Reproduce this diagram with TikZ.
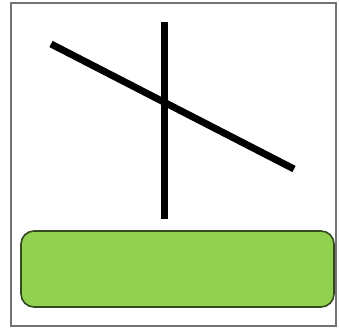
\documentclass[tikz,border=0pt]{standalone}
\usetikzlibrary{positioning}
\definecolor{barfill}{RGB}{146,208,80}
\definecolor{bardraw}{RGB}{52,74,30}

\begin{document}
\begin{tikzpicture}[
    x=1pt, y=-1pt,
    stick/.style={line width=7pt, black},
    frame/.style={draw=gray!90!black, line width=1.4pt},
    bar/.style={draw=bardraw, line width=1.6pt, fill=barfill,
                rounded corners=13pt}
  ]
  \useasboundingbox (0,0) rectangle (339,328);
  % outer frame
  \draw[frame] (11,3) rectangle (336,326);

  % crossing sticks
  \coordinate (vtop) at (164,22);
  \coordinate (vbot) at (164,219);
  \coordinate (dleft) at (51,44);
  \coordinate (dright) at (294,169);
  \draw[stick] (vtop) -- (vbot);
  \draw[stick] (dleft) -- (dright);

  % green base
  \draw[bar] (21,231) rectangle (334,307);
\end{tikzpicture}
\end{document}
